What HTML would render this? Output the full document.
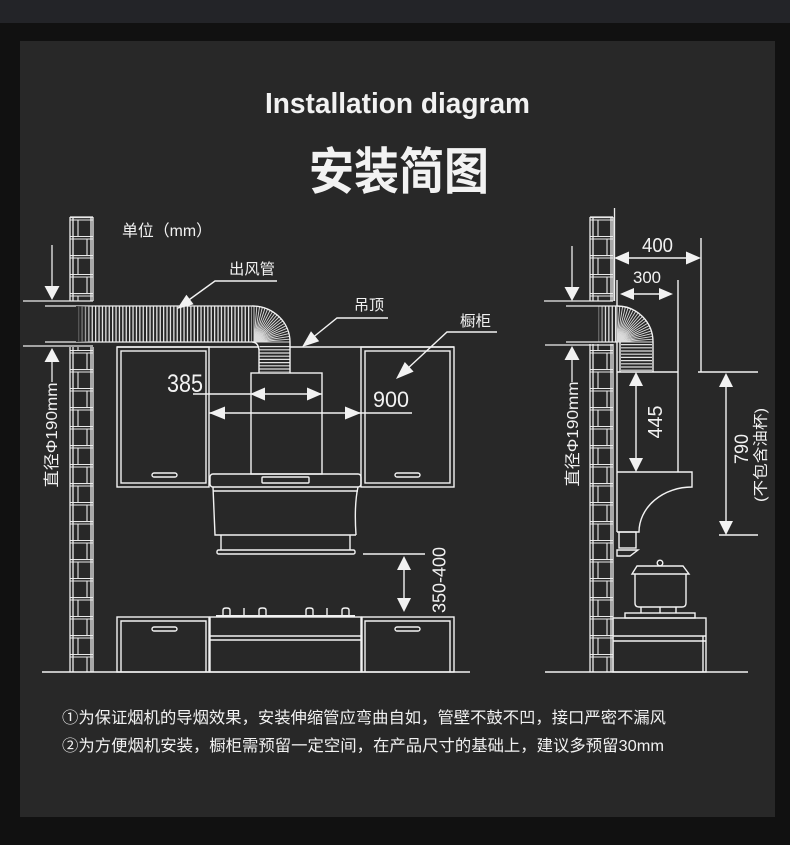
<!DOCTYPE html>
<html><head><meta charset="utf-8">
<style>
html,body{margin:0;padding:0;background:#111;}
body{width:790px;height:845px;overflow:hidden;position:relative;}
svg{position:absolute;left:0;top:0;}
text{font-family:"Liberation Sans","Noto Sans CJK SC",sans-serif;fill:#f2f2f2;}
</style></head>
<body>
<svg width="790" height="845" viewBox="0 0 790 845" xmlns="http://www.w3.org/2000/svg">
<defs>
<pattern id="brL" patternUnits="userSpaceOnUse" x="70" y="217" width="23" height="38">
 <g stroke="#e8e8e8" stroke-width="1.1" fill="none">
  <line x1="0" y1="0.6" x2="23" y2="0.6"/><line x1="0" y1="3" x2="23" y2="3"/>
  <line x1="8" y1="3" x2="8" y2="19.5"/>
  <line x1="0" y1="19.5" x2="23" y2="19.5"/><line x1="0" y1="22" x2="23" y2="22"/>
  <line x1="17" y1="22" x2="17" y2="38"/>
 </g>
</pattern>
<pattern id="brR" patternUnits="userSpaceOnUse" x="590" y="217" width="23" height="38">
 <g stroke="#e8e8e8" stroke-width="1.1" fill="none">
  <line x1="0" y1="0.6" x2="23" y2="0.6"/><line x1="0" y1="3" x2="23" y2="3"/>
  <line x1="8" y1="3" x2="8" y2="19.5"/>
  <line x1="0" y1="19.5" x2="23" y2="19.5"/><line x1="0" y1="22" x2="23" y2="22"/>
  <line x1="17" y1="22" x2="17" y2="38"/>
 </g>
</pattern>
<linearGradient id="fade" x1="0" x2="1" y1="0" y2="0">
 <stop offset="0" stop-color="#282828" stop-opacity="0.9"/>
 <stop offset="1" stop-color="#282828" stop-opacity="0"/>
</linearGradient>
</defs>

<!-- backgrounds -->
<rect x="0" y="0" width="790" height="845" fill="#111"/>
<rect x="0" y="0" width="790" height="23" fill="#232428"/>
<rect x="20" y="41" width="755" height="776" fill="#282828"/>

<!-- titles -->
<text x="265" y="113" font-size="29" font-weight="bold" textLength="265" lengthAdjust="spacingAndGlyphs" fill="#fff">Installation diagram</text>
<text x="309" y="189" font-size="50" font-weight="bold" textLength="180" lengthAdjust="spacingAndGlyphs" fill="#fff">安装简图</text>

<!-- labels -->
<text x="122" y="236" font-size="16" textLength="90" lengthAdjust="spacingAndGlyphs">单位（mm）</text>
<text x="229" y="274" font-size="15" textLength="46" lengthAdjust="spacingAndGlyphs">出风管</text>
<text x="354" y="310" font-size="15" textLength="30" lengthAdjust="spacingAndGlyphs">吊顶</text>
<text x="460" y="326" font-size="15" textLength="31" lengthAdjust="spacingAndGlyphs">橱柜</text>
<text x="167" y="392" font-size="25" textLength="36" lengthAdjust="spacingAndGlyphs">385</text>
<text x="373" y="407" font-size="22.5" textLength="36" lengthAdjust="spacingAndGlyphs">900</text>
<text x="642" y="252" font-size="20" textLength="31" lengthAdjust="spacingAndGlyphs">400</text>
<text x="633" y="283" font-size="17" textLength="28" lengthAdjust="spacingAndGlyphs">300</text>

<!-- rotated labels -->
<text transform="translate(51,435) rotate(-90)" x="0" y="6" font-size="16" text-anchor="middle" textLength="105" lengthAdjust="spacingAndGlyphs">直径Φ190mm</text>
<text transform="translate(572,434) rotate(-90)" x="0" y="6" font-size="16" text-anchor="middle" textLength="105" lengthAdjust="spacingAndGlyphs">直径Φ190mm</text>
<text transform="translate(439,580) rotate(-90)" x="0" y="6.5" font-size="18" text-anchor="middle" textLength="66" lengthAdjust="spacingAndGlyphs">350-400</text>
<text transform="translate(655,422) rotate(-90)" x="0" y="7" font-size="20" text-anchor="middle" textLength="33" lengthAdjust="spacingAndGlyphs">445</text>
<text transform="translate(741,449) rotate(-90)" x="0" y="7" font-size="19" text-anchor="middle" textLength="30" lengthAdjust="spacingAndGlyphs">790</text>
<text transform="translate(760,455) rotate(-90)" x="0" y="5.5" font-size="15" text-anchor="middle" textLength="94" lengthAdjust="spacingAndGlyphs">(不包含油杯)</text>

<!-- bottom notes -->
<text x="62" y="723" font-size="16" textLength="604" lengthAdjust="spacingAndGlyphs">①为保证烟机的导烟效果，安装伸缩管应弯曲自如，管壁不鼓不凹，接口严密不漏风</text>
<text x="62" y="751" font-size="16" textLength="602" lengthAdjust="spacingAndGlyphs">②为方便烟机安装，橱柜需预留一定空间，在产品尺寸的基础上，建议多预留30mm</text>

<!-- ===== LEFT DIAGRAM ===== -->
<rect x="70" y="217" width="23" height="84" fill="url(#brL)"/>
<rect x="70" y="347" width="23" height="325" fill="url(#brL)"/>
<g stroke="#ededed" stroke-width="1.3" fill="none">
 <line x1="70" y1="217" x2="93" y2="217"/>
 <line x1="70" y1="217" x2="70" y2="301"/><line x1="73" y1="217" x2="73" y2="301"/>
 <line x1="91" y1="217" x2="91" y2="301"/><line x1="93" y1="217" x2="93" y2="301"/>
 <line x1="70" y1="347" x2="70" y2="672"/><line x1="73" y1="347" x2="73" y2="672"/>
 <line x1="91" y1="347" x2="91" y2="672"/><line x1="93" y1="347" x2="93" y2="672"/>
 <line x1="23" y1="301" x2="93" y2="301"/>
 <line x1="45" y1="306" x2="252" y2="306"/>
 <line x1="45" y1="342" x2="252" y2="342"/>
 <line x1="23" y1="346" x2="93" y2="346"/>
 <!-- dims -->
 <line x1="52" y1="245" x2="52" y2="290"/>
 <line x1="52" y1="355" x2="52" y2="382"/>
</g>
<polygon points="52,300 44.5,286 59.5,286" fill="#f2f2f2"/>
<polygon points="52,348 44.5,362 59.5,362" fill="#f2f2f2"/>

<!-- duct ribs -->
<line x1="78" y1="324" x2="252" y2="324" stroke="#e2e2e2" stroke-width="35" stroke-dasharray="1.3 2.1"/>
<rect x="76" y="306" width="16" height="36" fill="url(#fade)"/>
<line x1="274.5" y1="346" x2="274.5" y2="372" stroke="#e2e2e2" stroke-width="30" stroke-dasharray="1.2 2"/>
<g stroke="#dcdcdc" stroke-width="0.9">
 <line x1="254" y1="342" x2="254" y2="306"/><line x1="254" y1="342" x2="256.8" y2="306.1"/>
 <line x1="254" y1="342" x2="259.6" y2="306.4"/><line x1="254" y1="342" x2="262.4" y2="307"/>
 <line x1="254" y1="342" x2="265.1" y2="307.8"/><line x1="254" y1="342" x2="267.8" y2="308.7"/>
 <line x1="254" y1="342" x2="270.3" y2="309.9"/><line x1="254" y1="342" x2="272.8" y2="311.3"/>
 <line x1="254" y1="342" x2="275.2" y2="312.9"/><line x1="254" y1="342" x2="277.4" y2="314.6"/>
 <line x1="254" y1="342" x2="279.5" y2="316.5"/><line x1="254" y1="342" x2="281.4" y2="318.6"/>
 <line x1="254" y1="342" x2="283.1" y2="320.8"/><line x1="254" y1="342" x2="284.7" y2="323.2"/>
 <line x1="254" y1="342" x2="286.1" y2="325.7"/><line x1="254" y1="342" x2="287.3" y2="328.2"/>
 <line x1="254" y1="342" x2="288.2" y2="330.9"/><line x1="254" y1="342" x2="289" y2="333.6"/>
 <line x1="254" y1="342" x2="289.6" y2="336.4"/><line x1="254" y1="342" x2="289.9" y2="339.2"/>
 <line x1="254" y1="342" x2="290" y2="342"/>
</g>
<g stroke="#f2f2f2" stroke-width="1.4" fill="none">
 <path d="M252,306 A38,36 0 0 1 290,342 L290,373"/>
 <path d="M252,342 Q258,342 259,350 L259,373"/>
 <!-- ceiling line -->
 <line x1="117" y1="347" x2="259" y2="347"/>
 <line x1="290" y1="347" x2="454" y2="347"/>
 <!-- upper cabinets -->
 <rect x="117" y="347" width="92" height="140"/>
 <rect x="121" y="351" width="85" height="132"/>
 <rect x="152" y="473" width="25" height="4" rx="2"/>
 <rect x="361" y="347" width="93" height="140"/>
 <rect x="365" y="351" width="85" height="132"/>
 <rect x="395" y="473" width="25" height="4" rx="2"/>
 <!-- chimney -->
 <rect x="251" y="373" width="71" height="101"/>
 <!-- hood -->
 <rect x="210" y="474" width="151" height="13" rx="3"/>
 <rect x="262" y="477" width="47" height="6" rx="1"/>
 <line x1="213" y1="491" x2="358" y2="491"/>
 <path d="M213,487 L215,535 L356,535"/>
 <path d="M358,487 Q354,505 356,535"/>
 <line x1="221" y1="535" x2="221" y2="550"/><line x1="350" y1="535" x2="350" y2="550"/>
 <rect x="217" y="550" width="138" height="4" rx="1.5"/>
 <!-- stove -->
 <path d="M223,616 L223,610 Q223,608 226.5,608 Q230,608 230,610 L230,616"/>
 <path d="M259,616 L259,610 Q259,608 262.5,608 Q266,608 266,610 L266,616"/>
 <path d="M306,616 L306,610 Q306,608 309.5,608 Q313,608 313,610 L313,616"/>
 <path d="M342,616 L342,610 Q342,608 345.5,608 Q349,608 349,610 L349,616"/>
 <line x1="244" y1="608" x2="244" y2="616"/><line x1="327" y1="608" x2="327" y2="616"/>
 <line x1="216" y1="616" x2="355" y2="616" stroke-width="2"/>
 <!-- lower cabinets -->
 <rect x="117" y="617" width="92" height="55"/>
 <polyline points="121,672 121,621 206,621 206,672"/>
 <rect x="152" y="627" width="25" height="4" rx="2"/>
 <rect x="210" y="617" width="151" height="55"/>
 <line x1="210" y1="636" x2="361" y2="636"/><line x1="210" y1="640" x2="361" y2="640"/>
 <rect x="362" y="617" width="92" height="55"/>
 <polyline points="365,672 365,621 450,621 450,672"/>
 <rect x="395" y="627" width="25" height="4" rx="2"/>
 <line x1="42" y1="672" x2="470" y2="672"/>
 <!-- 350-400 dim -->
 <line x1="363" y1="554" x2="425" y2="554"/>
 <line x1="404" y1="565" x2="404" y2="603"/>
 <!-- 385 / 900 dims -->
 <line x1="193" y1="394" x2="322" y2="394"/>
 <line x1="209" y1="413" x2="412" y2="413"/>
 <!-- leaders -->
 <polyline points="277,281 215,281 186,302"/>
 <polyline points="388,318 337,318 311,339"/>
 <polyline points="497,332 447,332 406,370"/>
</g>
<g fill="#f2f2f2">
 <polygon points="250,394 265,387.5 265,400.5"/>
 <polygon points="322,394 307,387.5 307,400.5"/>
 <polygon points="209,413 225,406.5 225,419.5"/>
 <polygon points="361,413 345,406.5 345,419.5"/>
 <polygon points="404,556 397,570 411,570"/>
 <polygon points="404,612 397,598 411,598"/>
 <polygon points="177,309 193.6,304.3 186.4,294.7"/>
 <polygon points="302,347 319.2,341.2 311,331.2"/>
 <polygon points="396,379 413.6,371.6 404.8,362"/>
</g>

<!-- ===== RIGHT DIAGRAM ===== -->
<rect x="590" y="217" width="23" height="84" fill="url(#brR)"/>
<rect x="590" y="344" width="23" height="328" fill="url(#brR)"/>
<line x1="598" y1="324" x2="617" y2="324" stroke="#e2e2e2" stroke-width="35" stroke-dasharray="1.3 2.1"/>
<rect x="596" y="306" width="10" height="36" fill="url(#fade)"/>
<line x1="636.5" y1="344" x2="636.5" y2="371" stroke="#e2e2e2" stroke-width="31" stroke-dasharray="1.2 2"/>
<g stroke="#dcdcdc" stroke-width="0.9">
 <line x1="617" y1="342" x2="617" y2="306"/><line x1="617" y1="342" x2="619.8" y2="306.1"/>
 <line x1="617" y1="342" x2="622.6" y2="306.4"/><line x1="617" y1="342" x2="625.4" y2="307"/>
 <line x1="617" y1="342" x2="628.1" y2="307.8"/><line x1="617" y1="342" x2="630.8" y2="308.7"/>
 <line x1="617" y1="342" x2="633.3" y2="309.9"/><line x1="617" y1="342" x2="635.8" y2="311.3"/>
 <line x1="617" y1="342" x2="638.2" y2="312.9"/><line x1="617" y1="342" x2="640.4" y2="314.6"/>
 <line x1="617" y1="342" x2="642.5" y2="316.5"/><line x1="617" y1="342" x2="644.4" y2="318.6"/>
 <line x1="617" y1="342" x2="646.1" y2="320.8"/><line x1="617" y1="342" x2="647.7" y2="323.2"/>
 <line x1="617" y1="342" x2="649.1" y2="325.7"/><line x1="617" y1="342" x2="650.3" y2="328.2"/>
 <line x1="617" y1="342" x2="651.2" y2="330.9"/><line x1="617" y1="342" x2="652" y2="333.6"/>
 <line x1="617" y1="342" x2="652.6" y2="336.4"/><line x1="617" y1="342" x2="652.9" y2="339.2"/>
 <line x1="617" y1="342" x2="653" y2="342"/>
</g>
<g stroke="#ededed" stroke-width="1.3" fill="none">
 <line x1="590" y1="217" x2="613" y2="217"/>
 <line x1="590" y1="217" x2="590" y2="301"/><line x1="593" y1="217" x2="593" y2="301"/>
 <line x1="611" y1="217" x2="611" y2="301"/><line x1="613" y1="217" x2="613" y2="301"/>
 <line x1="590" y1="344" x2="590" y2="672"/><line x1="593" y1="344" x2="593" y2="672"/>
 <line x1="611" y1="344" x2="611" y2="672"/><line x1="613" y1="344" x2="613" y2="672"/>
 <line x1="614.5" y1="208" x2="614.5" y2="301"/>
 <line x1="544" y1="301" x2="613" y2="301"/>
 <line x1="566" y1="306" x2="617" y2="306"/>
 <line x1="566" y1="342" x2="617" y2="342"/>
 <line x1="545" y1="345" x2="613" y2="345"/>
 <line x1="572" y1="246" x2="572" y2="290"/>
 <line x1="572" y1="355" x2="572" y2="382"/>
</g>
<g stroke="#f2f2f2" stroke-width="1.4" fill="none">
 <path d="M617,306 A36,36 0 0 1 653,342 L653,372"/>
 <line x1="620" y1="342" x2="620" y2="372"/>
 <line x1="617" y1="372" x2="678" y2="372"/>
 <line x1="678" y1="280" x2="678" y2="472"/>
 <line x1="617" y1="280" x2="617" y2="306"/>
 <line x1="617" y1="342" x2="617" y2="532"/>
 <!-- hood side -->
 <path d="M617,472 L692,472 L692,487 A53,45 0 0 0 639,532 L617,532"/>
 <rect x="619" y="532" width="17" height="16"/>
 <polygon points="617,550 638,550 630,556 617,556"/>
 <!-- dims -->
 <line x1="701" y1="238" x2="701" y2="372"/>
 <line x1="698" y1="372" x2="758" y2="372"/>
 <line x1="625" y1="258" x2="690" y2="258"/>
 <line x1="630" y1="294" x2="664" y2="294"/>
 <line x1="636" y1="382" x2="636" y2="462"/>
 <line x1="726" y1="383" x2="726" y2="525"/>
 <line x1="719" y1="535" x2="758" y2="535"/>
 <!-- pot -->
 <circle cx="660" cy="563" r="2.8"/>
 <polygon points="637,566 683,566 689,574 632,574"/>
 <path d="M635,574 L635,603 Q635,607 639,607 L682,607 Q686,607 686,603 L686,574"/>
 <line x1="641" y1="607" x2="641" y2="613"/><line x1="660" y1="607" x2="660" y2="613"/><line x1="676" y1="607" x2="676" y2="613"/>
 <rect x="625" y="613" width="70" height="5"/>
 <!-- stove cabinet -->
 <rect x="613" y="618" width="93" height="54"/>
 <line x1="613" y1="636" x2="706" y2="636"/><line x1="613" y1="641" x2="706" y2="641"/>
 <line x1="703" y1="636" x2="703" y2="672"/>
 <line x1="545" y1="672" x2="748" y2="672"/>
</g>
<g fill="#f2f2f2">
 <polygon points="572,301 564.5,287 579.5,287"/>
 <polygon points="572,346 564.5,360 579.5,360"/>
 <polygon points="614,258 629,251.5 629,264.5"/>
 <polygon points="701,258 686,251.5 686,264.5"/>
 <polygon points="620,294 634,288 634,300"/>
 <polygon points="673,294 659,288 659,300"/>
 <polygon points="636,372 629,386 643,386"/>
 <polygon points="636,472 629,458 643,458"/>
 <polygon points="726,373 719,387 733,387"/>
 <polygon points="726,535 719,521 733,521"/>
</g>
</svg>
</body></html>
